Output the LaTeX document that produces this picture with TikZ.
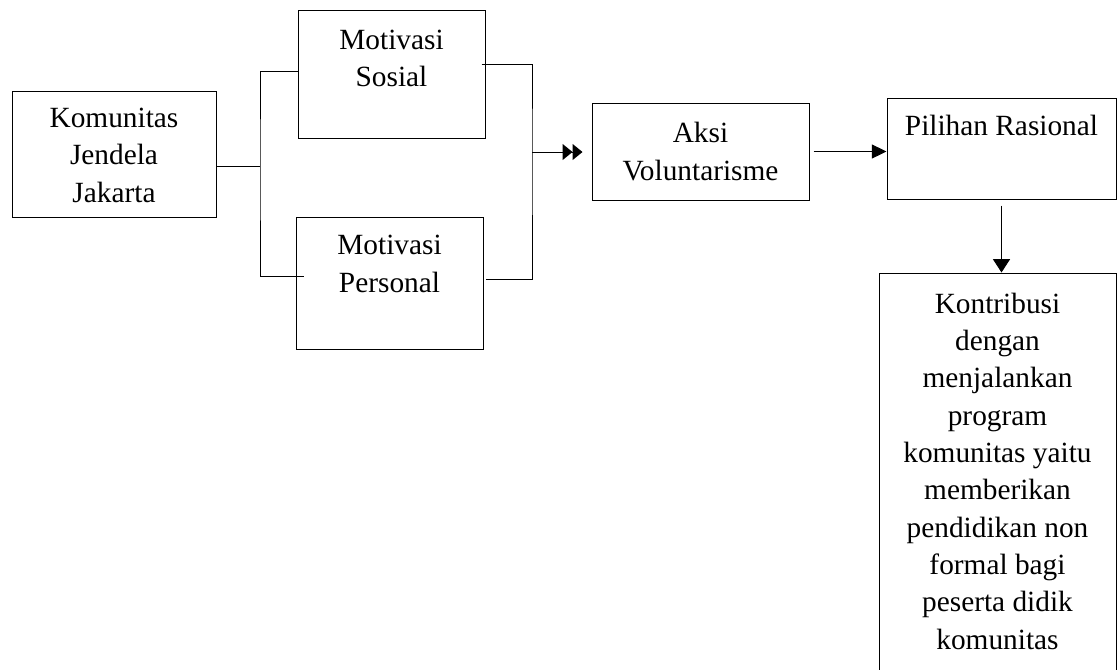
\documentclass[tikz,border=0pt]{standalone}
\usepackage{fontspec}
\setmainfont{Liberation Serif}
\usetikzlibrary{arrows.meta}

\tikzset{
  box/.style={draw, line width=0.75pt, inner sep=0pt, align=center,
    font=\fontsize{22}{28}\selectfont},
  txt/.style={align=center, inner sep=0pt, anchor=north,
    font=\fontsize{22}{28}\selectfont},
  link/.style={line width=0.75pt},
}

\begin{document}
\begin{tikzpicture}[x=0.75pt,y=0.75pt,yscale=-1,xscale=1]
\clip (0,0) rectangle (1117,669); %diagram is 1117 x 669

%Shape: Rectangle
\node[box, minimum width=153pt, minimum height=94.5pt,
  label={[txt, yshift=-13pt]north:Komunitas\\Jendela\\Jakarta}] (ks) at (114,154) {};
%Shape: Rectangle
\node[box, minimum width=140.25pt, minimum height=96pt,
  label={[txt, yshift=-15pt]north:Motivasi\\Sosial}] (ms) at (391.5,74) {};
%Shape: Rectangle
\node[box, minimum width=140.25pt, minimum height=99pt,
  label={[txt, yshift=-14pt]north:Motivasi\\Personal}] (mp) at (389.5,283) {};
%Shape: Rectangle
\node[box, minimum width=162.75pt, minimum height=72.75pt] (av) at (700.5,151.5) {Aksi\\Voluntarisme};
%Shape: Rectangle
\node[box, minimum width=171.75pt, minimum height=75.75pt,
  label={[txt, yshift=-13pt]north:Pilihan Rasional}] (pr) at (1001.5,148.5) {};
%Shape: Rectangle (runs past the bottom edge)
\node[box, minimum width=177.75pt, minimum height=320.25pt,
  label={[txt, yshift=-15pt]north:Kontribusi\\dengan\\menjalankan\\program\\komunitas yaitu\\memberikan\\pendidikan non\\formal bagi\\peserta didik\\komunitas}] (kt) at (997.5,486.5) {};

\coordinate (jl) at (260,166);
\coordinate (jr) at (532,152);

%Straight Lines
\draw[link] (ks.east |- jl) -- (jl);
\draw[link] ([yshift=-2.25pt]ms.west) -| (jl) |- ([xshift=6pt,yshift=-5.25pt]mp.west);

%Straight Lines
\draw[link] ([xshift=-3pt,yshift=-7.5pt]ms.east) -| (jr) |- ([xshift=1.5pt,yshift=-3pt]mp.east);
\draw[link, -{Triangle[length=7.5pt,width=12pt]Triangle[length=7.5pt,width=12pt]}, shorten >=6.75pt] (jr) -- (jr -| av.west);

%Straight Lines
\draw[link, -{Triangle[length=11pt,width=10.5pt]}, shorten <=3pt] (av.east) -- (av.east -| pr.west);
\draw[link, -{Triangle[length=10pt,width=12.75pt]}, shorten <=4.5pt] (pr.south) -- (pr.south |- kt.north);

\end{tikzpicture}
\end{document}
